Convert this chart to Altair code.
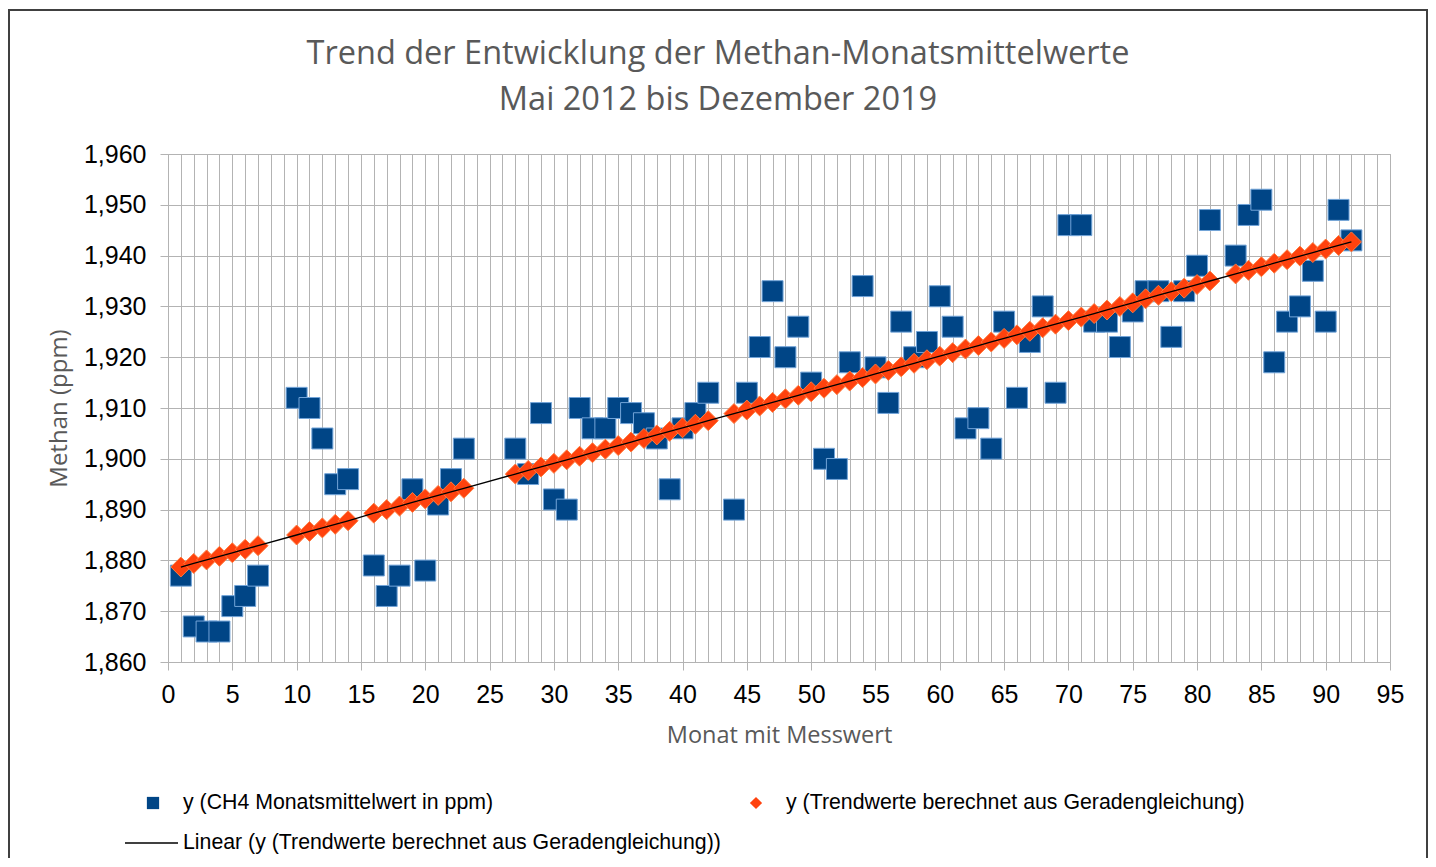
import altair as alt
import pandas as pd

# Month index with a measured value
months = [1, 2, 3, 4, 5, 6, 7,
          10, 11, 12, 13, 14,
          16, 17, 18, 19, 20, 21, 22, 23,
          27, 28, 29, 30, 31, 32, 33, 34, 35, 36, 37, 38, 39, 40, 41, 42,
          44, 45, 46, 47, 48, 49, 50, 51, 52, 53, 54, 55, 56, 57, 58, 59, 60,
          61, 62, 63, 64, 65, 66, 67, 68, 69, 70, 71, 72, 73, 74, 75, 76, 77,
          78, 79, 80, 81,
          83, 84, 85, 86, 87, 88, 89, 90, 91, 92]

# CH4 monthly means (ppm)
ch4 = [1877, 1867, 1866, 1866, 1871, 1873, 1877,
       1912, 1910, 1904, 1895, 1896,
       1879, 1873, 1877, 1894, 1878, 1891, 1896, 1902,
       1902, 1897, 1909, 1892, 1890, 1910, 1906, 1906, 1910, 1909, 1907, 1904, 1894, 1906, 1909, 1913,
       1890, 1913, 1922, 1933, 1920, 1926, 1915, 1900, 1898, 1919, 1934, 1918, 1911, 1927, 1920, 1923, 1932,
       1926, 1906, 1908, 1902, 1927, 1912, 1923, 1930, 1913, 1946, 1946, 1927, 1927, 1922, 1929, 1933, 1933,
       1924, 1933, 1938, 1947,
       1940, 1948, 1951, 1919, 1927, 1930, 1937, 1927, 1949, 1943]

# Trend values (read from the orange diamonds)
trend = [1878.7, 1879.4, 1880.1, 1880.8, 1881.5, 1882.2, 1882.9,
         1885.0, 1885.7, 1886.4, 1887.1, 1887.8,
         1889.3, 1890.0, 1890.7, 1891.4, 1892.1, 1892.8, 1893.5, 1894.2,
         1897.0, 1897.7, 1898.4, 1899.1, 1899.8, 1900.5, 1901.2, 1901.9, 1902.6, 1903.3, 1904.0, 1904.7,
         1905.4, 1906.1, 1906.8, 1907.5,
         1908.9, 1909.6, 1910.4, 1911.1, 1911.8, 1912.5, 1913.2, 1913.9, 1914.6, 1915.3, 1916.0, 1916.7,
         1917.4, 1918.1, 1918.8, 1919.5, 1920.2,
         1920.9, 1921.6, 1922.3, 1923.0, 1923.7, 1924.4, 1925.1, 1925.8, 1926.5, 1927.2, 1927.9, 1928.6,
         1929.3, 1930.0, 1930.7, 1931.5, 1932.2,
         1932.9, 1933.6, 1934.3, 1935.0,
         1936.4, 1937.1, 1937.8, 1938.5, 1939.2, 1939.9, 1940.6, 1941.3, 1942.0, 1942.7]

x_ticks = list(range(0, 96))
y_ticks = list(range(1860, 1961, 10))

title_lines = ["Trend der Entwicklung der Methan-Monatsmittelwerte", "Mai 2012 bis Dezember 2019"]
legend_labels = ["y (CH4 Monatsmittelwert in ppm)",
                 "y (Trendwerte berechnet aus Geradengleichung)",
                 "Linear (y (Trendwerte berechnet aus Geradengleichung))"]

df = pd.DataFrame({"Monat": months, "CH4": ch4, "Trend": trend})

GRID = "#b3b3b3"
BLUE = "#004586"
ORANGE = "#ff420e"

x_scale = alt.Scale(domain=[0, 95], nice=False, zero=False)
y_scale = alt.Scale(domain=[1860, 1960], nice=False, zero=False)

x_axis = alt.Axis(
    values=x_ticks, tickCount=200, format="d",
    labelExpr="datum.value % 5 == 0 ? datum.label : ''",
    labelOverlap=False, labelFlush=False,
    labelFont="Liberation Sans", labelFontSize=25, labelColor="black",
    labelPadding=12,
    tickSize=8,
    tickColor={"condition": {"test": "datum.value % 5 == 0", "value": GRID}, "value": "transparent"},
    grid=True, gridColor=GRID, gridWidth=1, domain=False,
    title="Monat mit Messwert", titleFont="Open Sans", titleFontSize=23.5,
    titleFontWeight="normal", titleColor="#595959", titlePadding=16,
)
y_axis = alt.Axis(
    values=y_ticks, format=",d", tickCount=20,
    labelFont="Liberation Sans", labelFontSize=25, labelColor="black",
    labelPadding=14, tickSize=8, tickColor=GRID,
    grid=True, gridColor=GRID, gridWidth=1, domain=False,
    title="Methan (ppm)", titleFont="Open Sans", titleFontSize=24,
    titleFontWeight="normal", titleColor="#595959", titlePadding=12,
)

base = alt.Chart(df)

squares = base.mark_square(size=440, filled=True, color=BLUE, stroke="#72a4d8", strokeWidth=1, opacity=1).encode(
    x=alt.X("Monat:Q", scale=x_scale, axis=x_axis),
    y=alt.Y("CH4:Q", scale=y_scale, axis=y_axis),
)
diamonds = base.mark_point(shape="diamond", size=400, filled=True, color=ORANGE,
                           stroke="#ff7a3d", strokeWidth=1, opacity=1).encode(
    x=alt.X("Monat:Q", scale=x_scale),
    y=alt.Y("Trend:Q", scale=y_scale),
)
line = base.mark_line(color="black", strokeWidth=1.3).encode(
    x=alt.X("Monat:Q", scale=x_scale),
    y=alt.Y("Trend:Q", scale=y_scale),
)

one = alt.Data(values=[{"a": 1}])

border = alt.Chart(one).mark_rect(fillOpacity=0, stroke="#404040", strokeWidth=2).encode(
    x=alt.value(-159), x2=alt.value(1259), y=alt.value(-144), y2=alt.value(720)
)

leg_sq = alt.Chart(one).mark_square(size=150, filled=True, color=BLUE, opacity=1).encode(
    x=alt.value(-15), y=alt.value(649))
leg_dm = alt.Chart(one).mark_point(shape="diamond", size=150, filled=True, color=ORANGE, opacity=1).encode(
    x=alt.value(588), y=alt.value(649))
leg_ln = alt.Chart(one).mark_rule(color="black", strokeWidth=1.3).encode(
    x=alt.value(-43), x2=alt.value(10), y=alt.value(689))

def leg_text(label, x, y):
    return alt.Chart(alt.Data(values=[{"label": label}])).mark_text(
        align="left", baseline="middle", font="Liberation Sans", fontSize=21.3, color="black"
    ).encode(text="label:N", x=alt.value(x), y=alt.value(y))

legend = (leg_sq + leg_dm + leg_ln
          + leg_text(legend_labels[0], 15, 649)
          + leg_text(legend_labels[1], 618, 649)
          + leg_text(legend_labels[2], 15, 689))

chart = alt.layer(border, squares, diamonds, line, legend).properties(
    width=1222, height=508,
    autosize=alt.AutoSizeParams(type="none"),
    padding={"left": 160, "top": 146, "right": 38, "bottom": 196},
    title=alt.Title(title_lines, fontSize=32.5, font="Open Sans", fontWeight="normal",
                    color="#595959", anchor="middle", frame="group", offset=0,
                    dx=-61, dy=107, lineHeight=46),
).configure_view(stroke=GRID, strokeWidth=1)

chart.save("out.html", embed_options={"renderer": "svg", "actions": False})
